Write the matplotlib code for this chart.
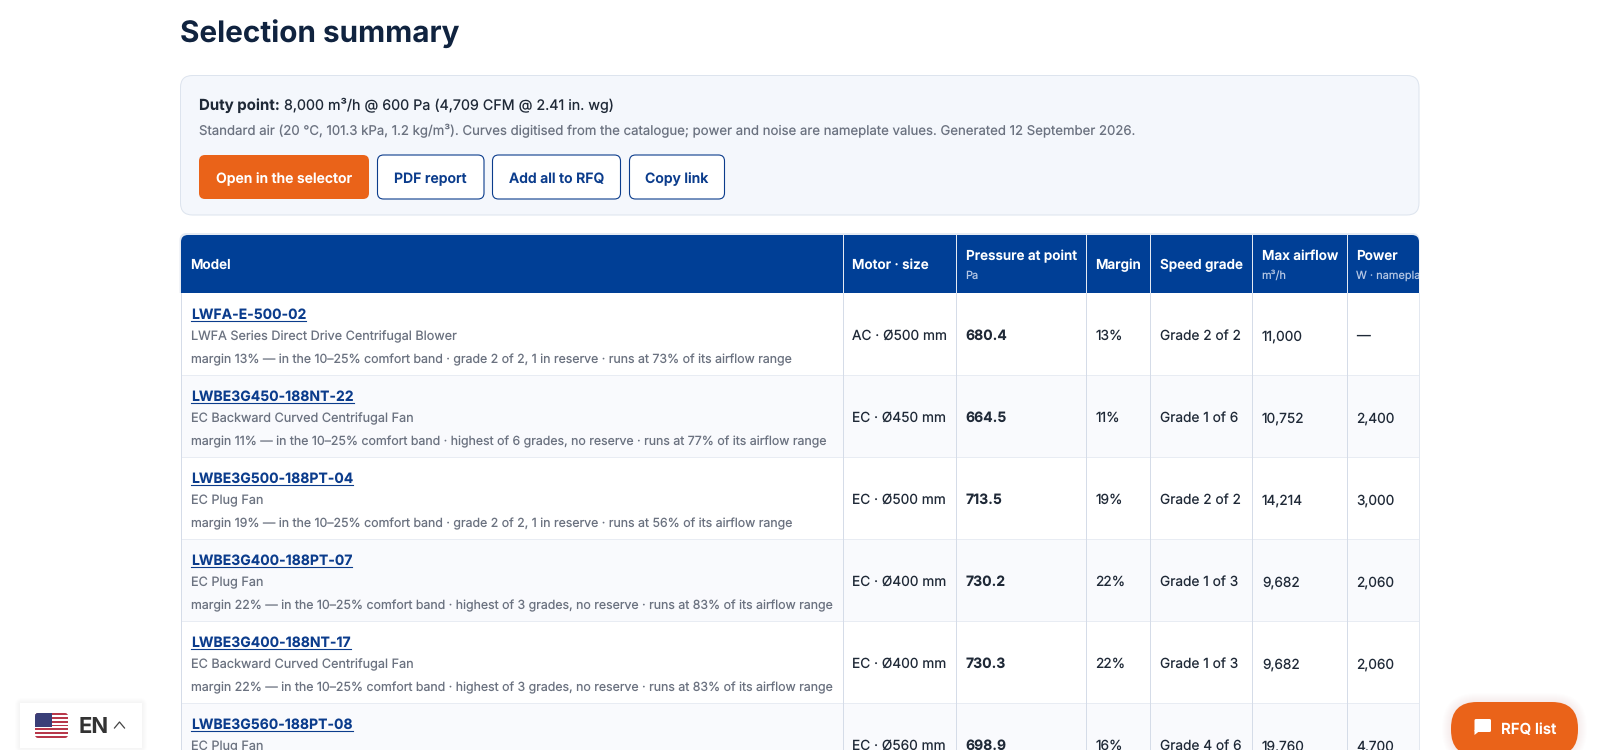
import matplotlib
matplotlib.use('Agg')
import matplotlib.pyplot as plt
from matplotlib.patches import FancyBboxPatch, Rectangle, Polygon

plt.rcParams['font.family'] = ['Inter', 'DejaVu Sans']
plt.rcParams['text.hinting'] = 'no_hinting'
plt.rcParams['text.hinting_factor'] = 1

# table content
models = ['LWFA-E-500-02', 'LWBE3G450-188NT-22', 'LWBE3G500-188PT-04',
          'LWBE3G400-188PT-07', 'LWBE3G400-188NT-17', 'LWBE3G560-188PT-08']
descriptions = ['LWFA Series Direct Drive Centrifugal Blower',
                'EC Backward Curved Centrifugal Fan',
                'EC Plug Fan', 'EC Plug Fan',
                'EC Backward Curved Centrifugal Fan', 'EC Plug Fan']
notes = ['margin 13% — in the 10–25% comfort band · grade 2 of 2, 1 in reserve · runs at 73% of its airflow range',
         'margin 11% — in the 10–25% comfort band · highest of 6 grades, no reserve · runs at 77% of its airflow range',
         'margin 19% — in the 10–25% comfort band · grade 2 of 2, 1 in reserve · runs at 56% of its airflow range',
         'margin 22% — in the 10–25% comfort band · highest of 3 grades, no reserve · runs at 83% of its airflow range',
         'margin 22% — in the 10–25% comfort band · highest of 3 grades, no reserve · runs at 83% of its airflow range',
         '']
motor_sizes = ['AC · Ø500 mm', 'EC · Ø450 mm', 'EC · Ø500 mm', 'EC · Ø400 mm', 'EC · Ø400 mm', 'EC · Ø560 mm']
pressures = ['680.4', '664.5', '713.5', '730.2', '730.3', '698.9']
margins = ['13%', '11%', '19%', '22%', '22%', '16%']
grades = ['Grade 2 of 2', 'Grade 1 of 6', 'Grade 2 of 2', 'Grade 1 of 3', 'Grade 1 of 3', 'Grade 4 of 6']
airflows = ['11,000', '10,752', '14,214', '9,682', '9,682', '19,760']
powers = ['—', '2,400', '3,000', '2,060', '2,060', '4,700']
headers = ['Model', 'Motor · size', 'Pressure at point', 'Margin', 'Speed grade', 'Max airflow', 'Power']
subheaders = ['', '', 'Pa', '', '', 'm³/h', 'W · nameplate']
buttons = ['Open in the selector', 'PDF report', 'Add all to RFQ', 'Copy link']

# colours
NAVY = '#003f96'
ORANGE = '#ea6319'
LINK = '#0b3c8c'
DARK = '#1f2937'
MUTED = '#6b7280'
LINE = '#d5dce8'

# layout in page pixels
col_edges = [181, 842.5, 956, 1086, 1150, 1252, 1347, 1419]
head_top, head_bot = 235, 293
row_h = 82


def px(size):
    return size * 0.72


fig = plt.figure(figsize=(16, 7.5), dpi=100)
ax = fig.add_axes([0, 0, 1, 1])
ax.set_xlim(0, 1600)
ax.set_ylim(750, 0)
ax.axis('off')


def label(x, y, s, size, color=DARK, weight='normal', ha='left', **kw):
    return ax.text(x, y, s, fontsize=px(size), color=color, fontweight=weight,
                   ha=ha, va='center_baseline', **kw)


def rbox(x0, y0, x1, y1, r, fc, ec='none', lw=0.72, z=1, alpha=None):
    p = FancyBboxPatch((x0, y0), x1 - x0, y1 - y0,
                       boxstyle='round,pad=0,rounding_size=%g' % r,
                       fc=fc, ec=ec, lw=lw, zorder=z, alpha=alpha)
    ax.add_patch(p)
    return p


# title
label(179.5, 30, 'Selection summary', 29.7, color='#10233f', weight='bold')

# summary panel
rbox(180.5, 75.5, 1419, 215, 12, '#f4f7fc', ec='#dde4ee')
t = label(199, 104, 'Duty point:', 15, weight='bold')
fig.canvas.draw()
w = t.get_window_extent().width
label(199 + w + 4.5, 104, '8,000 m³/h @ 600 Pa (4,709 CFM @ 2.41 in. wg)', 14.3)
label(199, 129.5, 'Standard air (20 °C, 101.3 kPa, 1.2 kg/m³). Curves digitised from the catalogue; '
      'power and noise are nameplate values. Generated 12 September 2026.', 13.2, color=MUTED)

btn_edges = [(199, 369), (377.5, 484), (492.5, 620.5), (629.5, 724.5)]
for i, (name, (x0, x1)) in enumerate(zip(buttons, btn_edges)):
    if i == 0:
        rbox(x0, 155, x1, 199, 6, ORANGE)
        label((x0 + x1) / 2, 177.5, name, 14, color='white', weight='semibold', ha='center', zorder=3)
    else:
        rbox(x0, 155, x1, 199, 6, 'white', ec=LINK, lw=0.8)
        label((x0 + x1) / 2, 177.5, name, 14, color=LINK, weight='semibold', ha='center', zorder=3)

# table header
rbox(179.5, 233, 1419.5, 300, 7, '#e6ebf3', z=1)
head = rbox(181, 235, 1419, 300, 7, NAVY, z=2)
clip = Rectangle((181, 235), 1238, 58, transform=ax.transData)
ax.add_patch(Rectangle((181, 289), 1238, 4, fc=NAVY, ec='none', zorder=2))
ax.add_patch(Rectangle((179, head_bot), 1242, 460, fc='white', ec='none', zorder=2))

for i, (h, sub) in enumerate(zip(headers, subheaders)):
    x = col_edges[i] + 9.5
    if sub:
        label(x, 254.5, h, 13.5, color='white', weight='semibold', zorder=4)
        s = label(x, 275, sub, 11, color='#b4c6e4', zorder=4, clip_on=True)
        s.set_clip_path(clip)
    else:
        label(x, 264, h, 13.5, color='white', weight='semibold', zorder=4)

# rows
for i in range(len(models)):
    top = head_bot + i * row_h
    if i % 2 == 1:
        ax.add_patch(Rectangle((181, top), 1238, row_h, fc='#f9fafd', ec='none', zorder=2.1))
    if i > 0:
        ax.plot([181, 1419], [top, top], color='#e8ecf3', lw=0.7, zorder=2.2)
    name = label(191, top + 21, models[i], 14, color=LINK, weight='bold', zorder=4)
    fig.canvas.draw()
    nw = name.get_window_extent().width
    ax.plot([191, 191 + nw], [top + 28, top + 28], color=LINK, lw=0.8, zorder=4)
    label(191, top + 42.5, descriptions[i], 12.66, color=MUTED, zorder=4)
    label(191, top + 65, notes[i], 12.36, color=MUTED, zorder=4)
    mid = top + 42
    label(852, mid, motor_sizes[i], 13.7, zorder=4)
    label(965.5, mid, pressures[i], 14, weight='bold', zorder=4)
    label(1095.5, mid, margins[i], 13.7, zorder=4)
    label(1160, mid, grades[i], 13.7, zorder=4)
    label(1262, mid, airflows[i], 13.7, zorder=4)
    label(1356.5, mid, powers[i], 13.7, zorder=4)

# column rules
for x in col_edges[1:-1]:
    ax.plot([x, x], [235, head_bot], color='#e4e9f2', lw=0.72, zorder=3)
    ax.plot([x, x], [head_bot, 750], color=LINE, lw=0.72, zorder=3)
ax.plot([181, 181], [head_bot, 750], color=LINE, lw=0.72, zorder=3)
ax.plot([1419, 1419], [head_bot, 750], color='#e3e8f0', lw=0.72, zorder=3)

# language picker
for k in range(6):
    rbox(20 - k, 703 - k, 142 + k, 748 + k, 2 + k, 'black', z=5, alpha=0.007)
ax.add_patch(Rectangle((20, 703), 122, 45, fc='white', ec='none', zorder=5.5))
flag_bg = rbox(35, 713, 68, 738, 3, 'white', z=6)
stripe_h = 25 / 13
for k in range(13):
    r = Rectangle((35, 713 + k * stripe_h), 33, stripe_h, fc='#b8384a' if k % 2 == 0 else 'white', ec='none', zorder=6.1)
    ax.add_patch(r)
    r.set_clip_path(flag_bg)
canton = Rectangle((35, 713), 17, 13.5, fc='#3a3f78', ec='none', zorder=6.2)
ax.add_patch(canton)
canton.set_clip_path(flag_bg)
label(79, 725, 'EN', 22, color='#333333', weight='bold', zorder=6)
ax.plot([114.5, 119.5, 124.5], [728, 722, 728], color='#444444', lw=0.9, zorder=6)

# RFQ button
for k in range(10):
    rbox(1451 - k, 702 - k, 1578 + k, 756 + k, 26 + k, ORANGE, z=5, alpha=0.008)
rbox(1451, 702, 1578, 756, 26, ORANGE, z=5.5)
rbox(1474.5, 719, 1491, 732, 1.5, 'white', z=6)
ax.add_patch(Polygon([[1474.5, 730], [1474.5, 735], [1479.5, 731]], fc='white', ec='none', zorder=6))
label(1501, 728, 'RFQ list', 15, color='white', weight='semibold', zorder=6)

fig.savefig('out.png', dpi=100)
